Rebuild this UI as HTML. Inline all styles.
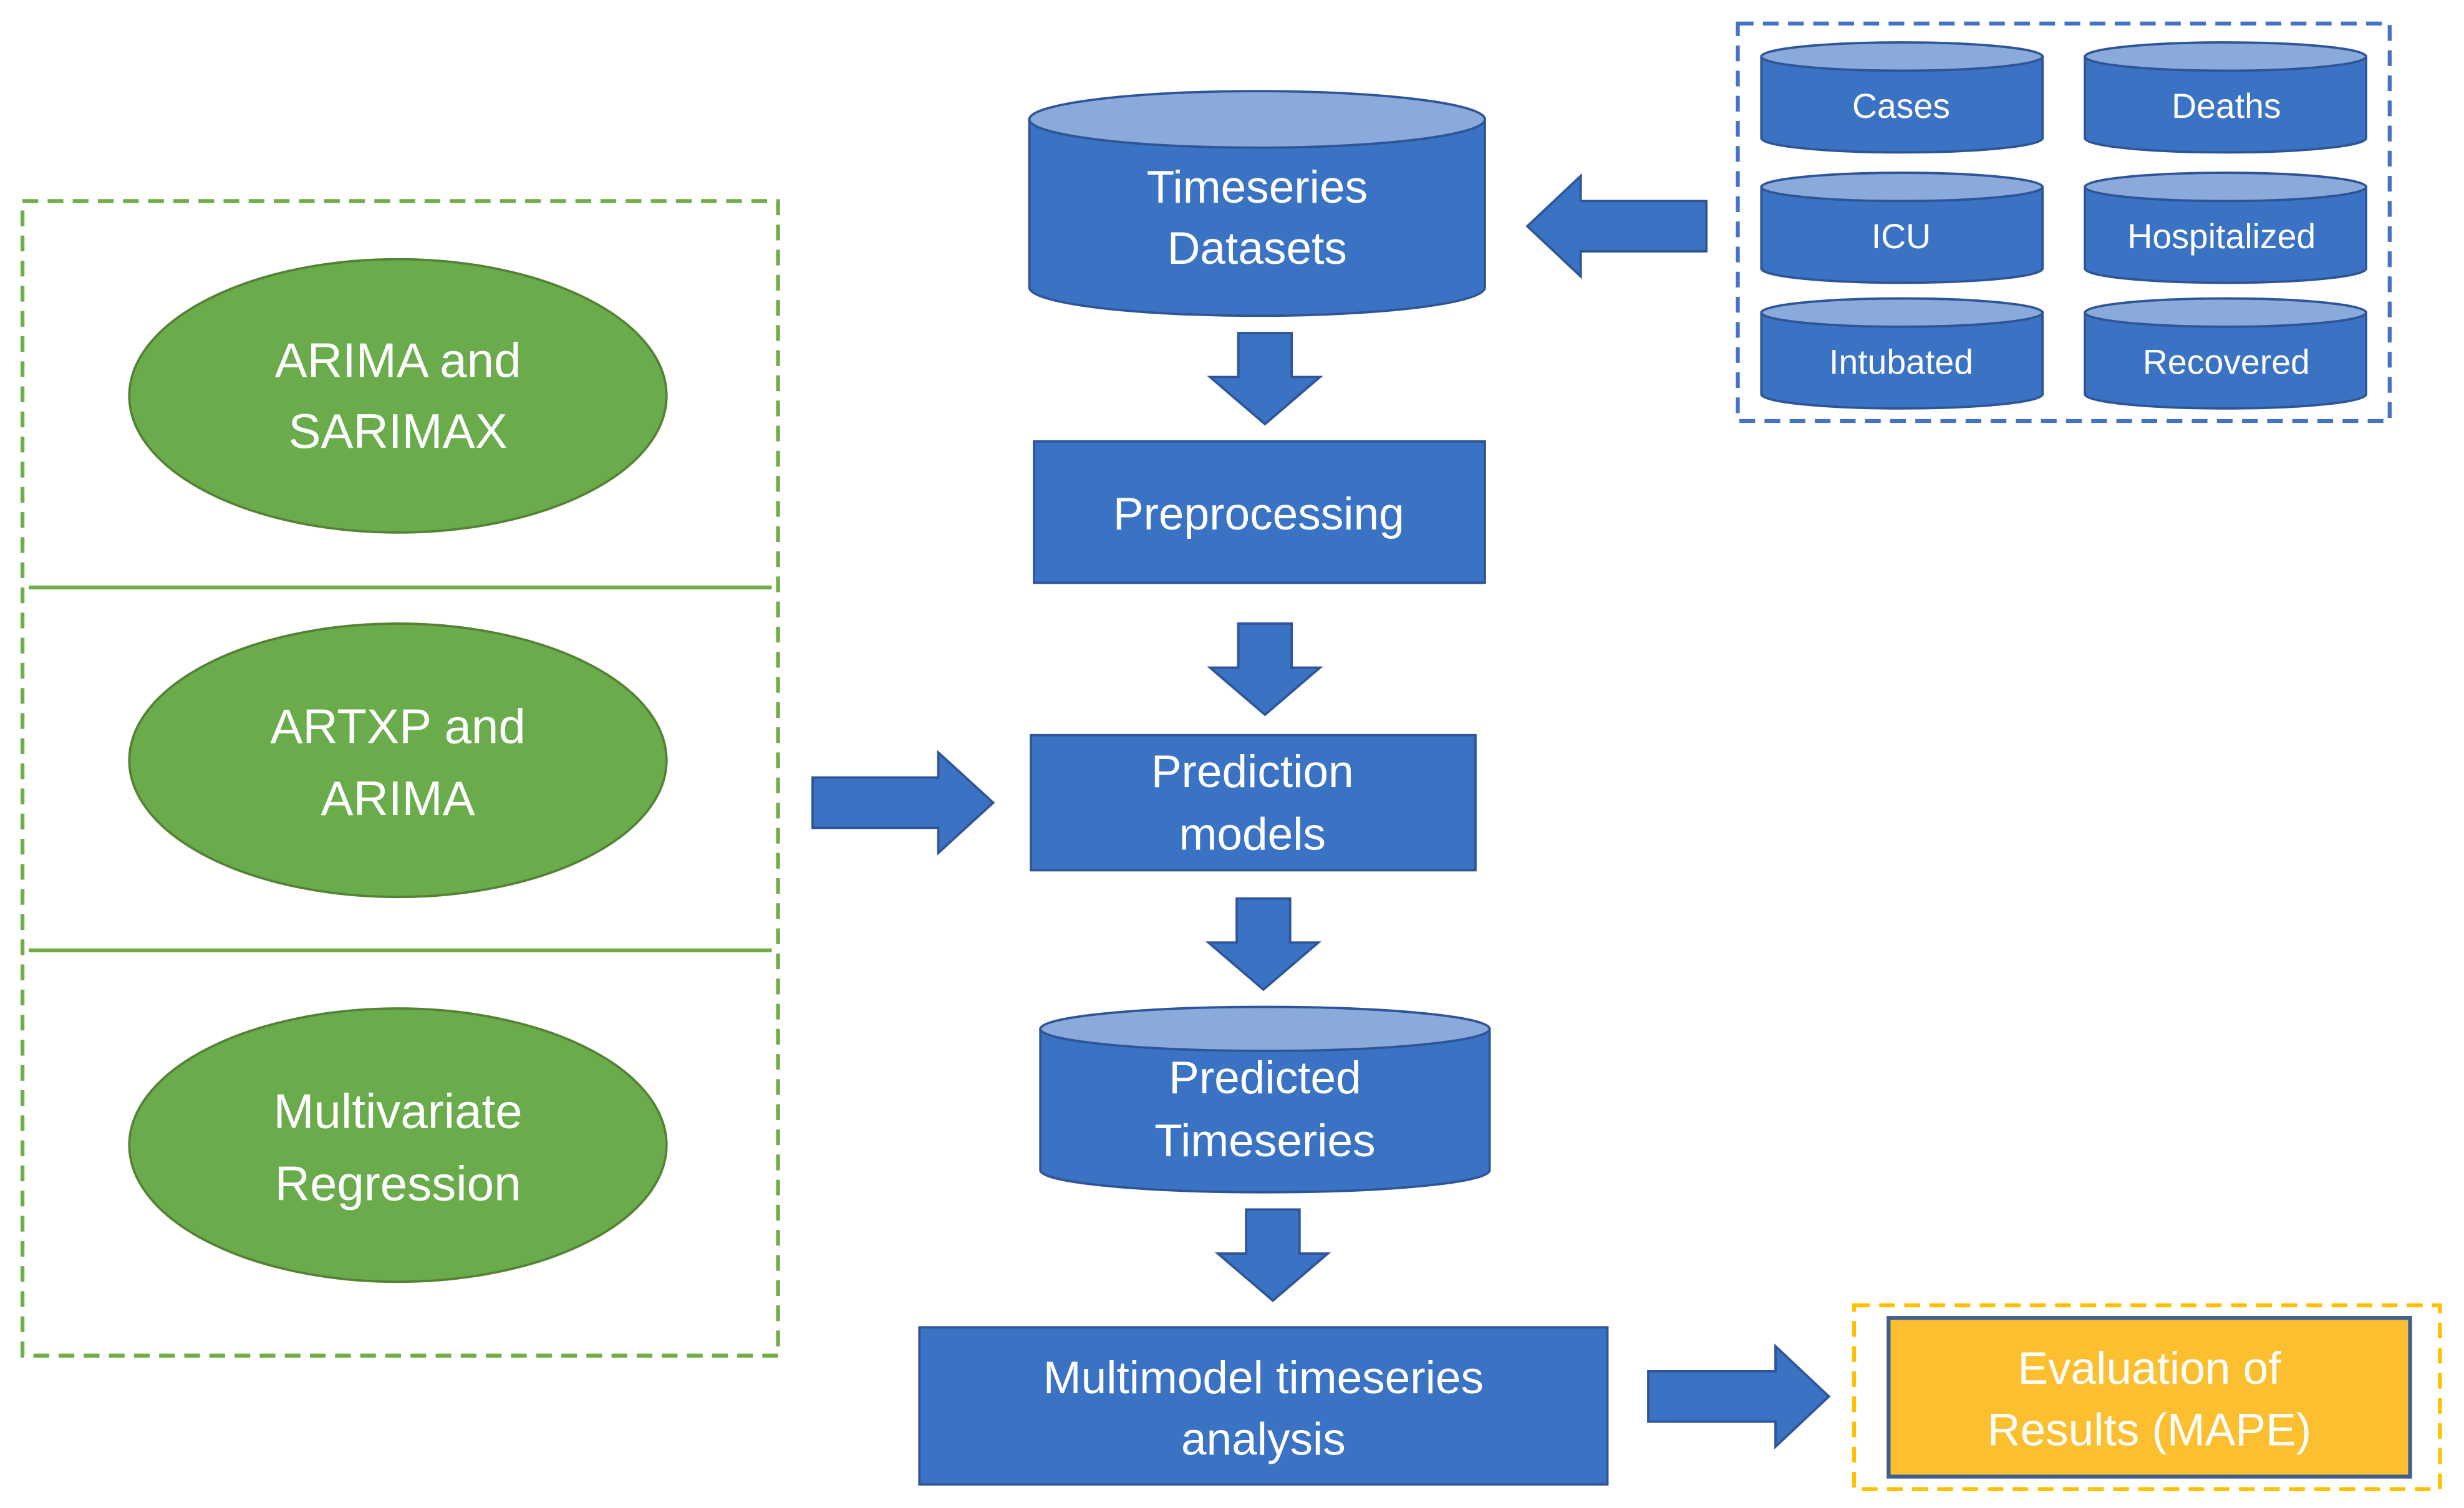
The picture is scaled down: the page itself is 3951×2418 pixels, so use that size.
<!DOCTYPE html>
<html><head><style>html,body{margin:0;padding:0;background:#fff}svg{display:block}</style></head><body>
<svg width="3951" height="2418" viewBox="0 0 1568 960" xmlns="http://www.w3.org/2000/svg" font-family="Liberation Sans, sans-serif" text-anchor="middle" fill="#fff">
<defs>
<g id="dn"><path d="M-17,0 H17 V28 H35 L0,58 L-35,28 H-17 Z" fill="#3a72c4" stroke="#2f5597" stroke-width="1.5"/></g>
</defs>
<!-- green dashed box -->
<rect x="14" y="128" width="481" height="735" fill="none" stroke="#70ad47" stroke-width="2.5" stroke-dasharray="10,6"/>
<line x1="18" y1="374" x2="491" y2="374" stroke="#70ad47" stroke-width="2.5"/>
<line x1="18" y1="605" x2="491" y2="605" stroke="#70ad47" stroke-width="2.5"/>
<g fill="#6aac4c" stroke="#548235" stroke-width="1.5">
<ellipse cx="253" cy="252" rx="171" ry="87"/>
<ellipse cx="253" cy="484" rx="171" ry="87"/>
<ellipse cx="253" cy="729" rx="171" ry="87"/>
</g>
<g font-size="31">
<text x="253" y="240">ARIMA and</text><text x="253" y="285">SARIMAX</text>
<text x="253" y="473">ARTXP and</text><text x="253" y="519">ARIMA</text>
<text x="253" y="718">Multivariate</text><text x="253" y="764">Regression</text>
</g>
<!-- arrows -->
<g fill="#3a72c4" stroke="#2f5597" stroke-width="1.5">
<path d="M517,495 H597 V479 L632,511 L597,543 V527 H517 Z"/>
<path d="M1086,128 H1006 V112 L972,144 L1006,176 V160 H1086 Z"/>
<path d="M1049,873 H1130 V857 L1164,889 L1130,921 V905 H1049 Z"/>
</g>
<use href="#dn" x="805" y="212"/>
<use href="#dn" x="805" y="397"/>
<use href="#dn" x="804" y="572"/>
<use href="#dn" x="810" y="770"/>
<!-- Timeseries cylinder -->
<g stroke="#2f5597" stroke-width="1.5">
<path d="M655,76 V183 A145,18 0 0 0 945,183 V76 Z" fill="#3a72c4"/>
<ellipse cx="800" cy="76" rx="145" ry="18" fill="#8aaadc"/>
<path d="M662,655 V745 A143,14 0 0 0 948,745 V655 Z" fill="#3a72c4"/>
<ellipse cx="805" cy="655" rx="143" ry="14" fill="#8aaadc"/>
<rect x="658" y="281" width="287" height="90" fill="#3a72c4"/>
<rect x="656" y="468" width="283" height="86" fill="#3a72c4"/>
<rect x="585" y="845" width="438" height="100" fill="#3a72c4"/>
</g>
<rect x="1180" y="831" width="373" height="117" fill="none" stroke="#ffc000" stroke-width="2.5" stroke-dasharray="10,6"/>
<rect x="1202" y="839" width="332" height="101" fill="#fbbf2f" stroke="#3f5f8f" stroke-width="2.5"/>
<g font-size="29">
<text x="800" y="129">Timeseries</text><text x="800" y="168">Datasets</text>
<text x="801" y="337">Preprocessing</text>
<text x="797" y="501">Prediction</text><text x="797" y="541">models</text>
<text x="805" y="696">Predicted</text><text x="805" y="736">Timeseries</text>
<text x="804" y="887">Multimodel timeseries</text><text x="804" y="926">analysis</text>
<text x="1368" y="881">Evaluation of</text><text x="1368" y="920">Results (MAPE)</text>
</g>
<!-- blue dashed box with small cylinders -->
<rect x="1106" y="15" width="415" height="253" fill="none" stroke="#4472c4" stroke-width="2.5" stroke-dasharray="10,6"/>
<g stroke="#2f5597" stroke-width="1.5">
<g id="c1"><path d="M1121,36 V88 A89.5,9 0 0 0 1300,88 V36 Z" fill="#3a72c4"/><ellipse cx="1210.5" cy="36" rx="89.5" ry="9" fill="#8aaadc"/></g>
<use href="#c1" x="206"/>
<use href="#c1" y="83"/>
<use href="#c1" x="206" y="83"/>
<use href="#c1" y="163"/>
<use href="#c1" x="206" y="163"/>
</g>
<g font-size="22">
<text x="1210" y="75">Cases</text><text x="1417" y="75">Deaths</text>
<text x="1210" y="158">ICU</text><text x="1414" y="158">Hospitalized</text>
<text x="1210" y="238">Intubated</text><text x="1417" y="238">Recovered</text>
</g>
</svg>
</body></html>
